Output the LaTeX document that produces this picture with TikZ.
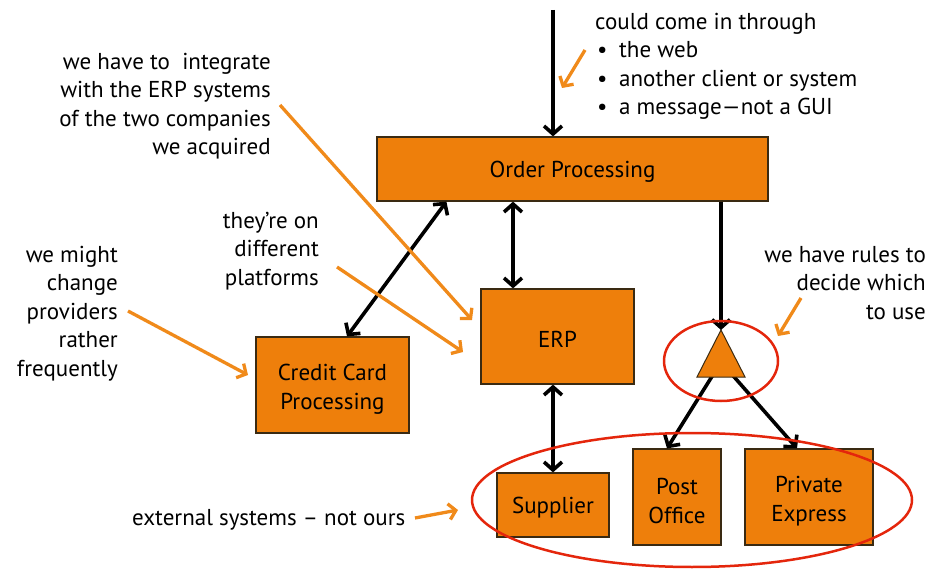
\documentclass[tikz,border=0pt]{standalone}
\usepackage{fontspec}
\setmainfont{PT Sans}
\usetikzlibrary{arrows.meta,calc}
\definecolor{boxorange}{HTML}{EE7F0B}
\definecolor{noteorange}{HTML}{F08A1A}
\definecolor{ringred}{HTML}{E4260C}
\definecolor{boxedge}{HTML}{3A2A12}
\newcommand{\toppad}{\rule{0pt}{24pt}}
\tikzset{
  box/.style={draw=boxedge, line width=1.2pt, fill=boxorange, inner sep=0pt,
    align=center, font=\fontsize{23}{29}\selectfont},
  oneline/.style={execute at begin node={\rule{0pt}{21.5pt}}},
  note/.style={inner sep=0pt, font=\fontsize{23}{28.4}\selectfont},
  flow/.style={line width=3.6pt, line cap=butt,
    -{Straight Barb[length=8pt,width=18pt]}},
  twoway/.style={line width=3.6pt,
    {Straight Barb[length=8pt,width=18pt]}-{Straight Barb[length=8pt,width=18pt]}},
  hint/.style={draw=noteorange, line width=3.3pt,
    -{Straight Barb[length=7pt,width=16pt]}},
  ring/.style={draw=ringred, line width=2.5pt}
}
\begin{document}
\begin{tikzpicture}[x=1pt,y=-1pt]
\useasboundingbox (0,0) rectangle (932,569);

% systems
\node[box, oneline, minimum width=391pt, minimum height=64pt] (op) at (572.5,169) {Order Processing};
\node[box, oneline, minimum width=153pt, minimum height=95pt] (erp) at (557.5,336.5) {ERP};
\node[box, minimum width=153pt, minimum height=96pt] (cc) at (332.5,385) {\toppad Credit Card\\Processing};
\node[box, oneline, minimum width=112pt, minimum height=64pt] (sup) at (553,505) {Supplier};
\node[box, minimum width=88pt, minimum height=96pt] (po) at (677,497) {\toppad Post\\Office};
\node[box, minimum width=128pt, minimum height=96pt] (pe) at (809,497) {\toppad Private\\Express};

% decision point
\coordinate (tri) at (721,362);
\coordinate (apex) at (721,330);
\draw[flow] (tri) -- ([xshift=-10pt]po.north);
\draw[flow] (tri) -- ([xshift=-12pt]pe.north);
\fill[boxorange, draw=boxedge, line width=1pt] (apex) -- (745,377) -- (697,377) -- cycle;

% black connectors
\coordinate (in) at (553,10);
\draw[flow] (in) -- (in |- op.north);
\draw[flow] (op.south -| apex) -- (apex);
\draw[twoway] ([xshift=70pt]op.south west) -- ([xshift=14.5pt]cc.north);
\draw[twoway] ([xshift=-44.5pt]erp.north |- op.south) -- ([xshift=-44.5pt]erp.north);
\draw[twoway] (sup.north |- erp.south) -- (sup.north);

% red rings
\draw[ring] (721,361) ellipse [x radius=57pt, y radius=40pt];
\draw[ring] (692,500) ellipse [x radius=220pt, y radius=67pt];

% notes
\node[note, anchor=north west, align=left] (chan) at (595,13)
  {could come in through\\
   \hspace*{2pt}\makebox[22pt][l]{\textbullet}the web\\
   \hspace*{2pt}\makebox[22pt][l]{\textbullet}another client or system\\
   \hspace*{2pt}\makebox[22pt][l]{\textbullet}a message—not a GUI};
\node[note, anchor=north east, align=right] (integ) at (271,53)
  {we have to\ \ integrate\\with the ERP systems\\of the two companies\\we acquired};
\node[note, anchor=north east, align=right] (plat) at (319,212)
  {they’re on\\different\\platforms};
\node[note, anchor=north east, align=right] (prov) at (118,246)
  {we might\\change\\providers\\rather\\frequently};
\node[note, anchor=north east, align=right] (rules) at (926,246)
  {we have rules to\\decide which\\to use};
\node[note, anchor=base west] (ext) at (132,525) {external systems – not ours};

% orange pointers
\coordinate (c1a) at (585,50);   \coordinate (c1b) at (562,88);
\coordinate (c2a) at (280,105);  \coordinate (c2b) at (472,320);
\coordinate (c3a) at (337,267);  \coordinate (c3b) at (463,352);
\coordinate (c4a) at (128,311);  \coordinate (c4b) at (248,375);
\coordinate (c5a) at (801,298);  \coordinate (c5b) at (778,336);
\coordinate (c6a) at (415,518);  \coordinate (c6b) at (458,510);
\draw[hint] (c1a) -- (c1b);
\draw[hint] (c2a) -- (c2b);
\draw[hint] (c3a) -- (c3b);
\draw[hint] (c4a) -- (c4b);
\draw[hint] (c5a) -- (c5b);
\draw[hint] (c6a) -- (c6b);
\end{tikzpicture}
\end{document}
